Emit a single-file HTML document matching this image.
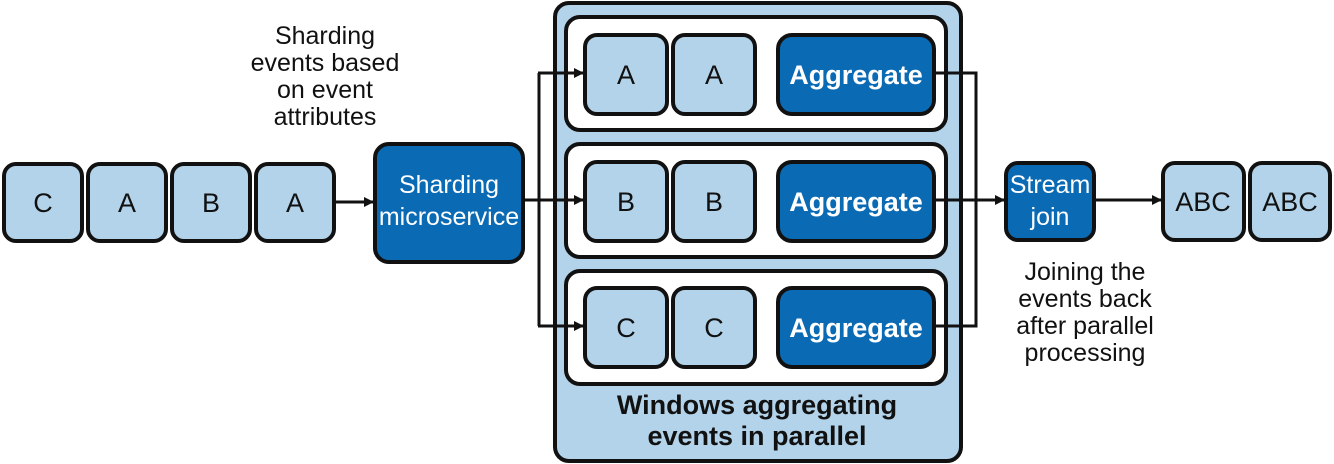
<!DOCTYPE html>
<html><head><meta charset="utf-8"><style>
html,body{margin:0;padding:0;background:#fff;}
svg{display:block;}
text{font-family:"Liberation Sans Narrow","Liberation Sans",sans-serif;}
</style></head><body>
<svg width="1334" height="464" viewBox="0 0 1334 464" xmlns="http://www.w3.org/2000/svg">
<defs>
<marker id="ah" markerWidth="10" markerHeight="10" refX="9" refY="5" orient="auto" markerUnits="userSpaceOnUse" viewBox="0 0 10 10">
<path d="M0,0 L10,5 L0,10 z" fill="#111"/></marker>
</defs>
<g stroke="#111" stroke-width="4">
<!-- left events -->
<rect x="4" y="164" width="78" height="77" rx="12" fill="#b3d3ea"/>
<rect x="88" y="164" width="78" height="77" rx="12" fill="#b3d3ea"/>
<rect x="172" y="164" width="78" height="77" rx="12" fill="#b3d3ea"/>
<rect x="256" y="164" width="78" height="77" rx="12" fill="#b3d3ea"/>
<rect x="375" y="144" width="148" height="118" rx="14" fill="#0a6ab4"/>
<!-- container -->
<rect x="555" y="3" width="406" height="458" rx="14" fill="#b3d3ea"/>
<rect x="566" y="17" width="380" height="113" rx="14" fill="#fff"/>
<rect x="566" y="144" width="380" height="113" rx="14" fill="#fff"/>
<rect x="566" y="271" width="380" height="113" rx="14" fill="#fff"/>
<rect x="585" y="35" width="82" height="79" rx="12" fill="#b3d3ea"/>
<rect x="673" y="35" width="82" height="79" rx="12" fill="#b3d3ea"/>
<rect x="778" y="35" width="156" height="79" rx="14" fill="#0a6ab4"/>
<rect x="585" y="162" width="82" height="79" rx="12" fill="#b3d3ea"/>
<rect x="673" y="162" width="82" height="79" rx="12" fill="#b3d3ea"/>
<rect x="778" y="162" width="156" height="79" rx="14" fill="#0a6ab4"/>
<rect x="585" y="288" width="82" height="79" rx="12" fill="#b3d3ea"/>
<rect x="673" y="288" width="82" height="79" rx="12" fill="#b3d3ea"/>
<rect x="778" y="288" width="156" height="79" rx="14" fill="#0a6ab4"/>
<!-- right -->
<rect x="1006" y="163" width="88" height="77" rx="12" fill="#0a6ab4"/>
<rect x="1163" y="163" width="81" height="77" rx="12" fill="#b3d3ea"/>
<rect x="1250" y="163" width="80" height="77" rx="12" fill="#b3d3ea"/>
</g>
<g stroke="#111" stroke-width="3" fill="none">
<line x1="334" y1="202" x2="373" y2="202" marker-end="url(#ah)"/>
<line x1="523" y1="200" x2="583" y2="200" marker-end="url(#ah)"/>
<line x1="539" y1="73" x2="539" y2="326"/>
<line x1="538" y1="73" x2="583" y2="73" marker-end="url(#ah)"/>
<line x1="538" y1="326" x2="583" y2="326" marker-end="url(#ah)"/>
<polyline points="934,73 976,73 976,326 934,326"/>
<line x1="934" y1="200" x2="1004" y2="200" marker-end="url(#ah)"/>
<line x1="1094" y1="200" x2="1161" y2="200" marker-end="url(#ah)"/>
</g>
<g font-size="27" fill="#111" text-anchor="middle">
<text x="43" y="212">C</text><text x="127" y="212">A</text><text x="211" y="212">B</text><text x="295" y="212">A</text>
<text x="626" y="84">A</text><text x="714" y="84">A</text>
<text x="626" y="211">B</text><text x="714" y="211">B</text>
<text x="626" y="337">C</text><text x="714" y="337">C</text>
<text x="1203" y="211">ABC</text><text x="1290" y="211">ABC</text>
</g>
<g font-size="25" fill="#fff" text-anchor="middle">
<text x="449" y="193">Sharding</text><text x="449" y="225">microservice</text>
<text x="1050" y="193">Stream</text><text x="1050" y="225">join</text>
</g>
<g font-size="27" fill="#fff" text-anchor="middle" font-weight="bold">
<text x="856" y="84">Aggregate</text><text x="856" y="211">Aggregate</text><text x="856" y="337">Aggregate</text>
</g>
<g font-size="25" fill="#111" text-anchor="middle">
<text x="325" y="44">Sharding</text><text x="325" y="71">events based</text><text x="325" y="98">on event</text><text x="325" y="125">attributes</text>
<text x="1085" y="280">Joining the</text><text x="1085" y="307">events back</text><text x="1085" y="334">after parallel</text><text x="1085" y="361">processing</text>
</g>
<g font-size="27" fill="#111" text-anchor="middle" font-weight="bold">
<text x="757" y="414">Windows aggregating</text><text x="757" y="445">events in parallel</text>
</g>
</svg>
</body></html>
